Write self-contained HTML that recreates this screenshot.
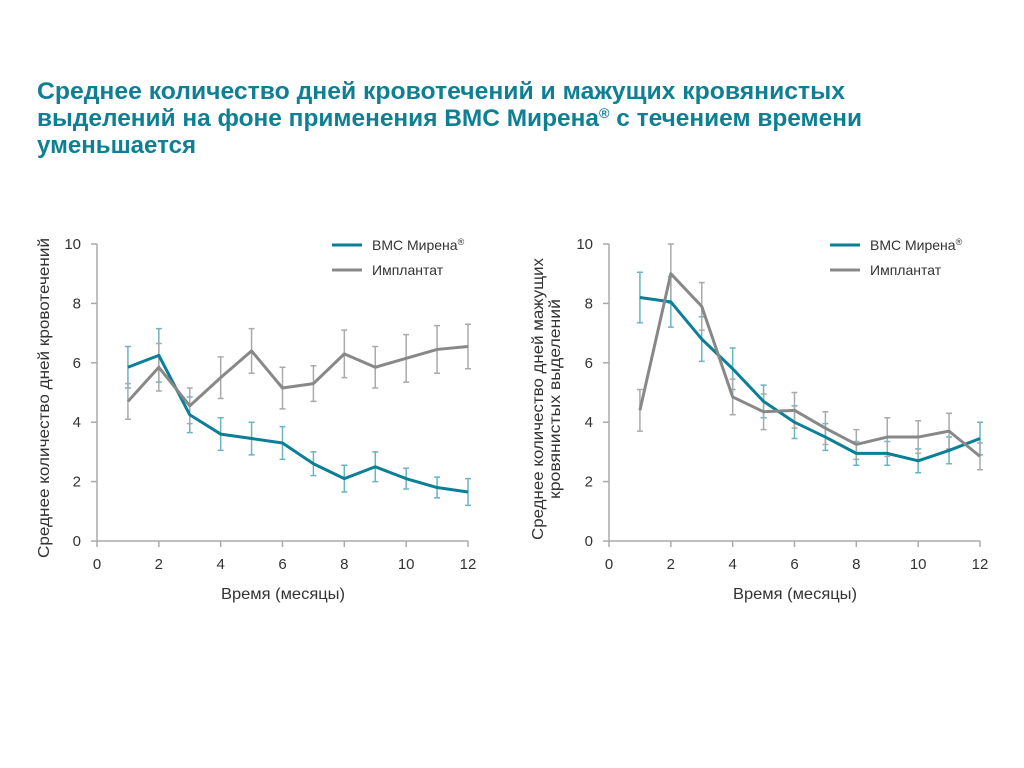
<!DOCTYPE html>
<html><head><meta charset="utf-8"><style>
body{margin:0;background:#fff}
svg{display:block;font-family:"Liberation Sans",sans-serif}
</style></head><body>
<svg id="s" width="1024" height="768">
<g fill="#0f7f94" font-weight="bold" font-size="24">
<text x="37" y="99" textLength="808" lengthAdjust="spacingAndGlyphs">Среднее количество дней кровотечений и мажущих кровянистых</text>
<text x="37" y="126" textLength="825" lengthAdjust="spacingAndGlyphs">выделений на фоне применения ВМС Мирена<tspan font-size="14" dy="-8">®</tspan><tspan dy="8"> с течением времени</tspan></text>
<text x="37" y="153" textLength="159" lengthAdjust="spacingAndGlyphs">уменьшается</text>
</g>
</svg>
<script>
const months=[1,2,3,4,5,6,7,8,9,10,11,12];
const xTicks=[0,2,4,6,8,10,12];
const yTicks=[0,2,4,6,8,10];
const leftMirena=[5.85,6.25,4.25,3.6,3.45,3.3,2.6,2.1,2.5,2.1,1.8,1.65];
const leftMirenaErr=[0.7,0.9,0.6,0.55,0.55,0.55,0.4,0.45,0.5,0.35,0.35,0.45];
const leftImplant=[4.7,5.85,4.55,5.5,6.4,5.15,5.3,6.3,5.85,6.15,6.45,6.55];
const leftImplantErr=[0.6,0.8,0.6,0.7,0.75,0.7,0.6,0.8,0.7,0.8,0.8,0.75];
const rightMirena=[8.2,8.05,6.8,5.8,4.7,4.0,3.5,2.95,2.95,2.7,3.05,3.45];
const rightMirenaErr=[0.85,0.85,0.75,0.7,0.55,0.55,0.45,0.4,0.4,0.4,0.45,0.55];
const rightImplant=[4.4,9.0,7.9,4.85,4.35,4.4,3.8,3.25,3.5,3.5,3.7,2.85];
const rightImplantErr=[0.7,1.0,0.8,0.6,0.6,0.6,0.55,0.5,0.65,0.55,0.6,0.45];
const NS='http://www.w3.org/2000/svg';
const svg=document.getElementById('s');
function mk(tag,attrs,parent){const e=document.createElementNS(NS,tag);for(const k in attrs)e.setAttribute(k,attrs[k]);(parent||svg).appendChild(e);return e;}
function chart(x0,label,lens,series,lx,name){
  const g=mk('g',{});
  
  
  const X=v=>x0+v*(371/12), Y=v=>541-v*29.7;
  const ax=mk('path',{d:`M${x0} 244V541H${x0+371}`,stroke:'#aaa','stroke-width':1.5,fill:'none'},g);
  
  
  yTicks.forEach(t=>{
    mk('line',{x1:x0-6,x2:x0,y1:Y(t),y2:Y(t),stroke:'#aaa','stroke-width':1.5},g);
    const tx=mk('text',{x:x0-16,y:Y(t)+5,'text-anchor':'end','font-size':15,fill:'#333'},g);
    tx.textContent=t;
    
    
  });
  xTicks.forEach(t=>{
    mk('line',{x1:X(t),x2:X(t),y1:541,y2:547,stroke:'#aaa','stroke-width':1.5},g);
    const tx=mk('text',{x:X(t),y:569,'text-anchor':'middle','font-size':15,fill:'#333'},g);
    tx.textContent=t;
    
    
  });
  const xt=mk('text',{x:x0+186,y:599,'text-anchor':'middle','font-size':16,fill:'#333',textLength:124,lengthAdjust:'spacingAndGlyphs'},g);
  xt.textContent='Время (месяцы)';
  
  
  label.forEach((l,i)=>{
    const x=label.length>1?x0-66+i*17:x0-48;
    const yt=mk('text',{transform:`translate(${x},${label.length>1?399:398}) rotate(-90)`,'text-anchor':'middle','font-size':16,fill:'#333',textLength:lens[i],lengthAdjust:'spacingAndGlyphs'},g);
    yt.textContent=l;
    
    
  });
  series.forEach(s=>{
    s.vals.forEach((v,i)=>{
      const x=X(months[i]),a=Y(v+s.err[i]),b=Y(v-s.err[i]);
      const e=mk('path',{d:`M${x} ${a}V${b}M${x-3} ${a}h6M${x-3} ${b}h6`,stroke:s.ec,'stroke-width':1.5,fill:'none'},g);
      
      
    });
  });
  series.forEach((s,si)=>{
    const p=mk('polyline',{points:s.vals.map((v,i)=>X(months[i])+','+Y(v)).join(' '),stroke:s.c,'stroke-width':3,fill:'none','stroke-linejoin':'round'},g);
    
    
  });
  const leg=[series.find(s=>s.n==='mirena'),series.find(s=>s.n==='implant')];
  leg.forEach((s,si)=>{
    const ly=245+si*25;
    const ll=mk('line',{x1:lx,x2:lx+30,y1:ly,y2:ly,stroke:s.c,'stroke-width':3},g);
    
    
    const lt=mk('text',{x:lx+40,y:ly+5,'font-size':14,fill:'#333'},g);
    
    
    if(s.n==='mirena'){lt.innerHTML='ВМС Мирена<tspan font-size="9" dy="-5">®</tspan>';}
    else lt.textContent=s.label;
  });
}
chart(97,['Среднее количество дней кровотечений'],[320],[
 {vals:leftMirena,err:leftMirenaErr,c:'#0a7f95',ec:'#6bb4c2',n:'mirena',label:'ВМС Мирена®'},
 {vals:leftImplant,err:leftImplantErr,c:'#888',ec:'#aaa',n:'implant',label:'Имплантат'}
],332,'left-chart');
chart(609,['Среднее количество дней мажущих','кровянистых выделений'],[282,200],[
 {vals:rightMirena,err:rightMirenaErr,c:'#0a7f95',ec:'#6bb4c2',n:'mirena',label:'ВМС Мирена®'},
 {vals:rightImplant,err:rightImplantErr,c:'#888',ec:'#aaa',n:'implant',label:'Имплантат'}
],830,'right-chart');
</script>
</body></html>
